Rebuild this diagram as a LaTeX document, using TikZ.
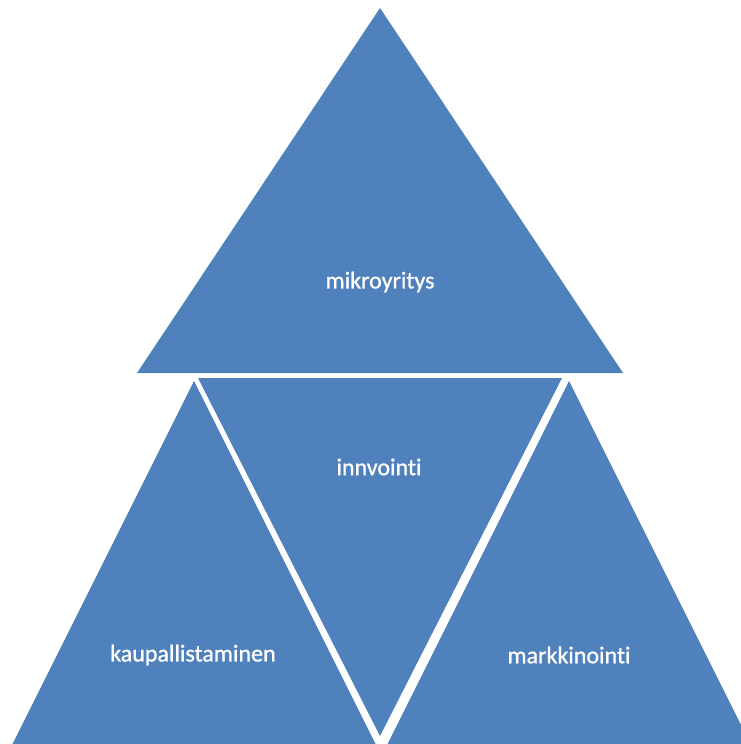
\documentclass[tikz,border=0pt]{standalone}
\usepackage{fontspec}
\setmainfont[Ligatures=NoCommon]{Carlito}
\newfontfamily\lblfont[Ligatures=NoCommon,FakeBold=0.9]{Carlito}
\definecolor{tri}{HTML}{4F81BD}
\begin{document}
\begin{tikzpicture}[x=1pt,y=-1pt,
  tri/.style={fill=tri,draw=none},
  lbl/.style={text=white,font=\lblfont\fontsize{24}{28}\selectfont,inner sep=0pt,anchor=center}]
\useasboundingbox (0,0) rectangle (741,744);
\clip (0,0) rectangle (741,744);
\fill[white] (0,0) rectangle (741,744);
% top triangle
\coordinate (tA) at (380,8);
\coordinate (tL) at (137,373);
\coordinate (tR) at (623,373);
\fill[tri] (tA) -- (tL) -- (tR) -- cycle;
% inverted middle
\coordinate (mL) at (198,378);
\coordinate (mR) at (562,378);
\coordinate (mB) at (380,736);
\fill[tri] (mL) -- (mR) -- (mB) -- cycle;
% left triangle
\coordinate (lA) at (194,381);
\coordinate (lL) at (-6,781);
\coordinate (lR) at (394,781);
\fill[tri] (lA) -- (lL) -- (lR) -- cycle;
% right triangle
\coordinate (rA) at (569,381);
\coordinate (rL) at (369,781);
\coordinate (rR) at (769,781);
\fill[tri] (rA) -- (rL) -- (rR) -- cycle;
% labels
\node[lbl] (t1) at (380,282) {mikroyritys};
\node[lbl] (t2) at (379,467) {innvointi};
\node[lbl] (t3) at (193,655) {kaupallistaminen};
\node[lbl] (t4) at (569,655) {markkinointi};
\end{tikzpicture}
\end{document}
